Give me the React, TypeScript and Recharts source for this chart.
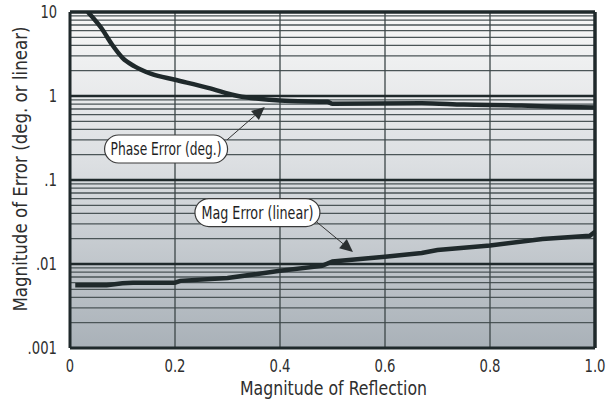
import React from 'react';
import { LineChart, Line, XAxis, YAxis, ReferenceLine, ReferenceArea, ReferenceDot } from 'recharts';

const xTicks = [0, 0.2, 0.4, 0.6, 0.8, 1.0];
const xTickLabels = ['0', '0.2', '0.4', '0.6', '0.8', '1.0'];
const yTicks = [0.001, 0.01, 0.1, 1, 10];
const yTickLabels = ['.001', '.01', '.1', '1', '10'];
const decades = [0.001, 0.01, 0.1, 1];
const minorSteps = [2, 3, 4, 5, 6, 7, 8, 9];
const verticalGrid = [0.2, 0.4, 0.6, 0.8];

const phaseX = [0.034, 0.06, 0.08, 0.1, 0.123, 0.155, 0.2, 0.263, 0.32, 0.38, 0.42, 0.49, 0.5, 0.67, 0.75, 0.86, 0.91, 1.0];
const phaseY = [10, 6.4, 4.1, 2.85, 2.25, 1.83, 1.56, 1.25, 1.0, 0.9, 0.87, 0.855, 0.81, 0.82, 0.79, 0.77, 0.75, 0.73];

const magX = [0.01, 0.07, 0.1, 0.12, 0.2, 0.21, 0.3, 0.4, 0.48, 0.5, 0.6, 0.67, 0.7, 0.8, 0.9, 0.99, 1.0];
const magY = [0.0056, 0.0056, 0.0059, 0.006, 0.006, 0.0063, 0.0068, 0.0083, 0.0095, 0.0107, 0.0122, 0.0135, 0.0147, 0.0166, 0.0198, 0.0217, 0.0242];

const phaseData = phaseX.map((x, i) => ({ x, v: phaseY[i] }));
const magData = magX.map((x, i) => ({ x, v: magY[i] }));

const minorLines: number[] = [];
decades.forEach((d) => minorSteps.forEach((s) => minorLines.push(+(d * s).toPrecision(3))));

const FONT = '"DejaVu Sans", sans-serif';
const DARK = '#1f292b';
const TEXT = '#2e2e2e';

const annotations = [
  { text: 'Phase Error (deg.)', x: 0.183, y: 0.234, w: 123, tl: 111, from: { x: 0.299, y: 0.3 }, to: { x: 0.371, y: 0.74 } },
  { text: 'Mag Error (linear)', x: 0.357, y: 0.041, w: 125, tl: 112, from: { x: 0.47, y: 0.0316 }, to: { x: 0.539, y: 0.0139 } },
];

const numLen = (s: string) => {
  let n = 0;
  for (const c of s) n += c === '.' ? 4.5 : 8.3;
  return n;
};

const Arrow = (props: any) => {
  const { x1, y1, x2, y2 } = props;
  if ([x1, y1, x2, y2].some((v) => typeof v !== 'number')) return null;
  const dx = x2 - x1;
  const dy = y2 - y1;
  const len = Math.sqrt(dx * dx + dy * dy);
  const ux = dx / len;
  const uy = dy / len;
  const hl = 13;
  const hw = 6;
  const bx = x2 - ux * hl;
  const by = y2 - uy * hl;
  const pts = `${x2},${y2} ${bx - uy * hw},${by + ux * hw} ${bx + uy * hw},${by - ux * hw}`;
  return (
    <g>
      <line x1={x1} y1={y1} x2={bx} y2={by} stroke="#333" strokeWidth={1} />
      <polygon points={pts} fill="#2a2f30" />
    </g>
  );
};

const makeLabel = (text: string, w: number, tl: number) => (props: any) => {
  const { cx, cy } = props;
  const h = 28;
  return (
    <g>
      <rect x={cx - w / 2} y={cy - h / 2} width={w} height={h} rx={14} ry={14} fill="#ffffff" stroke="#3a3a3a" strokeWidth={1.2} />
      <text x={cx} y={cy + 6} textAnchor="middle" fontFamily={FONT} fontSize={17.5} fill="#1e1e1e" textLength={tl} lengthAdjust="spacingAndGlyphs">
        {text}
      </text>
    </g>
  );
};

const XTick = (props: any) => {
  const { x, y, payload } = props;
  const s = xTickLabels[xTicks.indexOf(payload.value)] ?? String(payload.value);
  return (
    <text x={x} y={y + 12} textAnchor="middle" fontFamily={FONT} fontSize={18} fill={TEXT} textLength={numLen(s)} lengthAdjust="spacingAndGlyphs">
      {s}
    </text>
  );
};

const YTick = (props: any) => {
  const { x, y, payload } = props;
  const s = yTickLabels[yTicks.indexOf(payload.value)] ?? String(payload.value);
  return (
    <text x={x} y={y + 6} textAnchor="end" fontFamily={FONT} fontSize={18} fill={TEXT} textLength={numLen(s)} lengthAdjust="spacingAndGlyphs">
      {s}
    </text>
  );
};

const XLabel = (props: any) => {
  const vb = props.viewBox || { x: 70, y: 348, width: 525, height: 57 };
  return (
    <text x={vb.x + vb.width / 2 + 1} y={vb.y + vb.height - 10} textAnchor="middle" fontFamily={FONT} fontSize={19} fill={TEXT} textLength={187} lengthAdjust="spacingAndGlyphs">
      Magnitude of Reflection
    </text>
  );
};

const YLabel = (props: any) => {
  const vb = props.viewBox || { x: 0, y: 12, width: 70, height: 336 };
  const cx = vb.x + 27;
  const cy = vb.y + 157;
  return (
    <g transform={`translate(${cx} ${cy}) rotate(-90)`}>
      <text x={0} y={0} textAnchor="middle" fontFamily={FONT} fontSize={19} fill={TEXT} textLength={285} lengthAdjust="spacingAndGlyphs">
        Magnitude of Error (deg. or linear)
      </text>
    </g>
  );
};

export default function App() {
  return (
    <div style={{ position: 'absolute', left: 0, top: 0, background: '#fff' }}>
      <LineChart width={616} height={405} margin={{ top: 12, right: 21, left: 0, bottom: 0 }}>
        <defs>
          <linearGradient id="bg" x1="0" y1="0" x2="0" y2="1">
            <stop offset="0%" stopColor="#f7f7f7" />
            <stop offset="45%" stopColor="#dcdfe2" />
            <stop offset="100%" stopColor="#a9b1b8" />
          </linearGradient>
        </defs>
        <XAxis
          type="number"
          dataKey="x"
          domain={[0, 1]}
          ticks={xTicks}
          height={57}
          axisLine={{ stroke: DARK, strokeWidth: 3 }}
          tickLine={false}
          tick={<XTick />}
          tickMargin={6}
          label={<XLabel />}
        />
        <YAxis
          type="number"
          scale="log"
          domain={[0.001, 10]}
          ticks={yTicks}
          allowDataOverflow
          width={70}
          axisLine={{ stroke: DARK, strokeWidth: 3 }}
          tickLine={false}
          tick={<YTick />}
          tickMargin={7}
          label={<YLabel />}
        />
        <ReferenceArea x1={0} x2={1} y1={0.001} y2={10} fill="url(#bg)" fillOpacity={1} stroke="none" />
        {minorLines.map((v) => (
          <ReferenceLine key={'m' + v} y={v} stroke="#4b5557" strokeWidth={1.3} />
        ))}
        {verticalGrid.map((v) => (
          <ReferenceLine key={'v' + v} x={v} stroke="#3c4648" strokeWidth={1.3} />
        ))}
        {decades.slice(1).map((v) => (
          <ReferenceLine key={'d' + v} y={v} stroke={DARK} strokeWidth={2.6} />
        ))}
        <ReferenceLine y={10} stroke={DARK} strokeWidth={3.5} />
        <ReferenceLine x={1} stroke={DARK} strokeWidth={3.5} />
        <Line data={phaseData} dataKey="v" type="monotone" stroke={DARK} strokeWidth={4.5} dot={false} isAnimationActive={false} />
        <Line data={magData} dataKey="v" type="linear" stroke={DARK} strokeWidth={4.5} dot={false} isAnimationActive={false} />
        {annotations.map((a) => (
          <ReferenceLine key={'a' + a.text} segment={[a.from, a.to]} shape={Arrow} />
        ))}
        {annotations.map((a) => (
          <ReferenceDot key={'l' + a.text} x={a.x} y={a.y} r={1} shape={makeLabel(a.text, a.w, a.tl)} />
        ))}
      </LineChart>
    </div>
  );
}
